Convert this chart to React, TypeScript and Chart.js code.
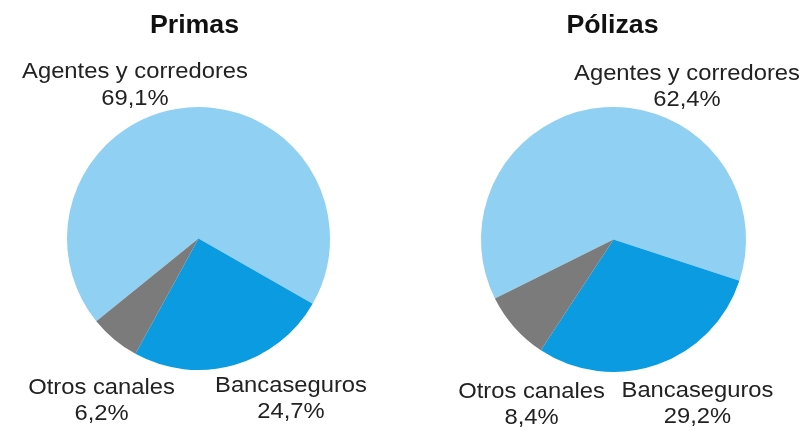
import React, { useEffect, useRef } from "react";
import { Chart, registerables } from "chart.js";

Chart.register(...registerables);

const categories = ["Agentes y corredores", "Bancaseguros", "Otros canales"];
const primasValues = [69.1, 24.7, 6.2];
const polizasValues = [62.4, 29.2, 8.4];
const chartTitles = ["Primas", "Pólizas"];
const sliceColors = ["#8fd0f3", "#0a9be0", "#7b7b7b"];

type LabelPos = { dx: number; dy: number };

const fmt = (v: number) => v.toFixed(1).replace(".", ",") + "%";

function drawScaled(ctx: CanvasRenderingContext2D, text: string, x: number, y: number, sx: number) {
  ctx.save();
  ctx.translate(x, y);
  ctx.scale(sx, 1);
  ctx.fillText(text, 0, 0);
  ctx.restore();
}

const labelPlugin = {
  id: "pieLabels",
  afterDraw(chart: any, _args: any, opts: any) {
    const ctx: CanvasRenderingContext2D = chart.ctx;
    const meta = chart.getDatasetMeta(0);
    const arc = meta.data[0];
    if (!arc) return;
    const cx = arc.x;
    const cy = arc.y;
    ctx.save();
    ctx.textAlign = "center";
    ctx.textBaseline = "alphabetic";
    // title
    ctx.fillStyle = "#111111";
    ctx.font = "bold 25px 'Liberation Sans', Arial, sans-serif";
    drawScaled(ctx, opts.title, cx + opts.titlePos.dx, cy + opts.titlePos.dy, 1.07);
    // slice labels
    ctx.fillStyle = "#222222";
    ctx.font = "22px 'Liberation Sans', Arial, sans-serif";
    const labels: string[] = chart.data.labels;
    const values: number[] = chart.data.datasets[0].data;
    labels.forEach((lab, i) => {
      const p: LabelPos = opts.positions[i];
      const x = cx + p.dx;
      const y = cy + p.dy;
      drawScaled(ctx, lab, x, y, 1.08);
      drawScaled(ctx, fmt(values[i]), x, y + 26.5, 1.08);
    });
    ctx.restore();
  },
};

type PieProps = {
  values: number[];
  title: string;
  rotation: number;
  padding: { left: number; right: number; top: number; bottom: number };
  positions: LabelPos[];
  titlePos: LabelPos;
  width: number;
  left: number;
};

function PieChart({ values, title, rotation, padding, positions, titlePos, width, left }: PieProps) {
  const ref = useRef<HTMLCanvasElement | null>(null);
  useEffect(() => {
    if (!ref.current) return;
    const chart = new Chart(ref.current, {
      type: "pie",
      data: {
        labels: categories,
        datasets: [
          {
            data: values,
            backgroundColor: sliceColors,
            borderWidth: 0,
          },
        ],
      },
      options: {
        animation: false,
        responsive: false,
        devicePixelRatio: 1,
        rotation,
        layout: { padding },
        plugins: {
          legend: { display: false },
          tooltip: { enabled: false },
          title: { display: false },
          pieLabels: { title, positions, titlePos },
        } as any,
      },
      plugins: [labelPlugin],
    });
    return () => chart.destroy();
  }, []);
  return (
    <canvas
      ref={ref}
      width={width}
      height={430}
      style={{ position: "absolute", left, top: 0, width, height: 430 }}
    />
  );
}

export default function App() {
  return (
    <div
      style={{
        position: "absolute",
        left: 0,
        top: 0,
        width: 809,
        height: 430,
        background: "#ffffff",
        overflow: "hidden",
      }}
    >
      <PieChart
        values={primasValues}
        title={chartTitles[0]}
        rotation={231}
        width={404}
        left={0}
        padding={{ left: 67, right: 74, top: 107, bottom: 60 }}
        titlePos={{ dx: -4, dy: -206 }}
        positions={[
          { dx: -63.5, dy: -160.5 },
          { dx: 92.5, dy: 153 },
          { dx: -97, dy: 155 },
        ]}
      />
      <PieChart
        values={polizasValues}
        title={chartTitles[1]}
        rotation={243.5}
        width={405}
        left={404}
        padding={{ left: 77, right: 63, top: 107, bottom: 58 }}
        titlePos={{ dx: -1, dy: -207 }}
        positions={[
          { dx: 73.5, dy: -160 },
          { dx: 84, dy: 157 },
          { dx: -82, dy: 158 },
        ]}
      />
    </div>
  );
}
